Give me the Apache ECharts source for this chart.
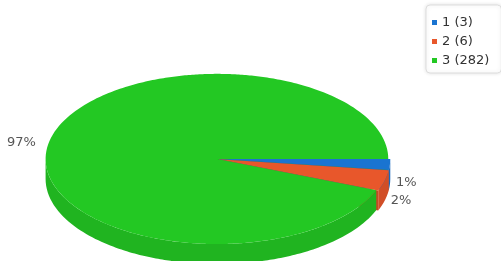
<!DOCTYPE html>
<html>
<head>
<meta charset="utf-8">
<script src="https://cdn.jsdelivr.net/npm/echarts@6/dist/echarts.min.js"></script>
<style>
  html, body { margin: 0; padding: 0; background: #fff; }
  #chart { width: 501px; height: 261px; }
</style>
</head>
<body>
<div id="chart"></div>
<script>
// data
var categories = ['1', '2', '3'];
var values = [3, 6, 282];

var colors = ['#1a74d1', '#e8572b', '#23c823'];
var explode = [2, 2, 0];

var total = values.reduce(function (a, b) { return a + b; }, 0);

function sliceAngles(i) {
    var s = 0;
    for (var j = 0; j < i; j++) s += values[j];
    return [s / total * Math.PI * 2, (s + values[i]) / total * Math.PI * 2];
}

function shade(hex, f) {
    var n = parseInt(hex.slice(1), 16);
    var r = Math.round(((n >> 16) & 255) * f);
    var g = Math.round(((n >> 8) & 255) * f);
    var b = Math.round((n & 255) * f);
    return 'rgb(' + r + ',' + g + ',' + b + ')';
}

function geometry(api) {
    var W = api.getWidth(), H = api.getHeight();
    return { cx: W * 0.433, cy: H * 0.609, rx: W * 0.342, ry: H * 0.326, d: 20 };
}

// point on the ellipse rim at a screen angle t
function rim(g, cx, cy, t) {
    var c = Math.cos(t), s = Math.sin(t);
    var r = g.rx * g.ry / Math.sqrt(Math.pow(g.ry * c, 2) + Math.pow(g.rx * s, 2));
    return [cx + r * c, cy + r * s];
}

// label positions, pushed apart on the right side
function labelLayout(g) {
    var out = [];
    var lastRight = -1e9;
    for (var i = 0; i < values.length; i++) {
        var a = sliceAngles(i);
        var m = (a[0] + a[1]) / 2;
        var p = rim(g, g.cx, g.cy, m);
        if (Math.cos(m) >= 0) {
            var y = Math.max(p[1] + 18, lastRight + 18);
            lastRight = y;
            out.push({ x: p[0] + 8, y: y, align: 'left' });
        } else {
            out.push({ x: p[0] - 13, y: p[1], align: 'right' });
        }
    }
    return out;
}

function makeRender(i) {
    return function (params, api) {
        var g = geometry(api);
        var a = sliceAngles(i);
        var a0 = a[0], a1 = a[1], m = (a0 + a1) / 2;
        var cx = g.cx + explode[i] * Math.cos(m);
        var cy = g.cy + explode[i] * Math.sin(m);

        function arc(s, e, dy) {
            var n = Math.max(2, Math.ceil((e - s) / 0.02));
            var pts = [];
            for (var k = 0; k <= n; k++) {
                var p = rim(g, cx, cy, s + (e - s) * k / n);
                pts.push([p[0], p[1] + dy]);
            }
            return pts;
        }

        var children = [];
        // cut faces that face the viewer
        [[a0, -Math.cos(a0) > 0], [a1, Math.cos(a1) > 0]].forEach(function (f) {
            if (!f[1]) return;
            var e = rim(g, cx, cy, f[0]);
            children.push({
                type: 'polygon',
                z2: 1 + Math.sin(f[0]),
                shape: { points: [[cx, cy], e, [e[0], e[1] + g.d], [cx, cy + g.d]] },
                style: { fill: shade(colors[i], 0.85) }
            });
        });
        // outer wall on the front half
        var lo = Math.max(a0, 0), hi = Math.min(a1, Math.PI);
        if (hi > lo) {
            children.push({
                type: 'polygon',
                z2: 3,
                shape: { points: arc(lo, hi, 0).concat(arc(lo, hi, g.d).reverse()) },
                style: { fill: shade(colors[i], 0.9) }
            });
        }
        // top face
        children.push({
            type: 'polygon',
            z2: 4,
            shape: { points: [[cx, cy]].concat(arc(a0, a1, 0)) },
            style: { fill: colors[i] }
        });
        // percent label
        var lab = labelLayout(g)[i];
        children.push({
            type: 'text',
            z2: 5,
            x: lab.x,
            y: lab.y,
            style: {
                text: Math.round(values[i] / total * 100) + '%',
                fill: '#555',
                font: '13px "DejaVu Sans"',
                align: lab.align,
                verticalAlign: 'middle'
            }
        });
        return { type: 'group', children: children };
    };
}

var series = categories.map(function (c, i) {
    return {
        type: 'custom',
        name: c + ' (' + values[i] + ')',
        coordinateSystem: 'none',
        itemStyle: { color: colors[i] },
        renderItem: makeRender(i),
        data: [[values[i]]]
    };
});

var chart = echarts.init(document.getElementById('chart'));
chart.setOption({
    animation: false,
    legend: {
        orient: 'vertical',
        left: 426,
        top: 5,
        padding: [10, 12, 5, 6],
        itemWidth: 5,
        itemHeight: 5,
        itemGap: 4,
        icon: 'rect',
        backgroundColor: '#fff',
        borderColor: '#ddd',
        borderWidth: 1,
        borderRadius: 4,
        shadowBlur: 4,
        shadowColor: 'rgba(0,0,0,0.12)',
        textStyle: { fontFamily: 'DejaVu Sans', fontSize: 13, color: '#333', lineHeight: 15 },
        data: series.map(function (s) { return s.name; })
    },
    series: series
});
</script>
</body>
</html>
